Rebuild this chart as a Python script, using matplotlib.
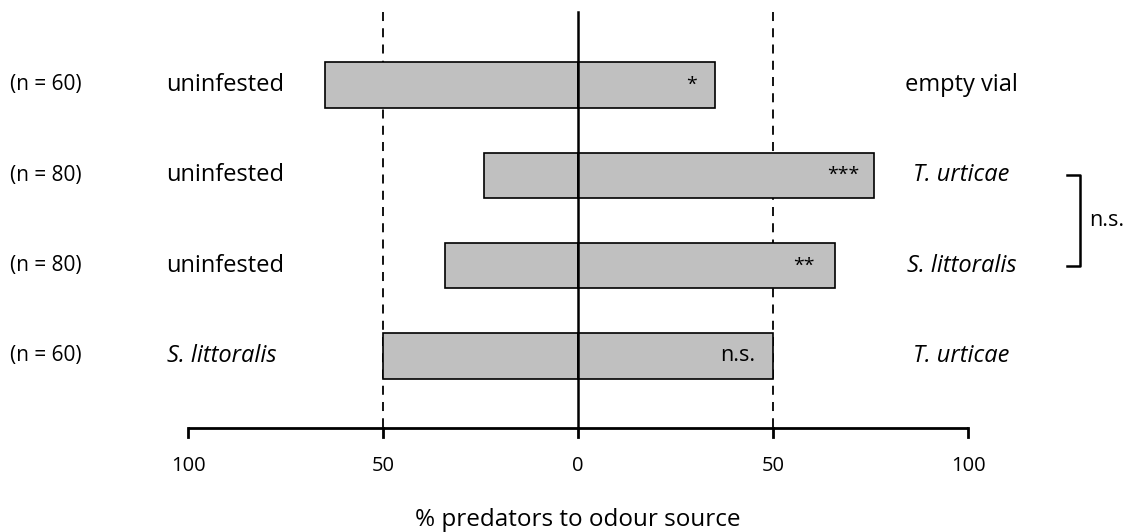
import numpy as np
import matplotlib.pyplot as plt

plt.rcParams['font.family'] = ['Open Sans', 'DejaVu Sans']

# choice tests, % predators to each odour source
sample_n = ['(n = 60)', '(n = 80)', '(n = 80)', '(n = 60)']
left_src = ['uninfested', 'uninfested', 'uninfested', 'S. littoralis']
right_src = ['empty vial', 'T. urticae', 'S. littoralis', 'T. urticae']
left_italic = [False, False, False, True]
right_italic = [False, True, True, True]
left_pct = [65, 24, 34, 50]
right_pct = [35, 76, 66, 50]
signif = ['*', '***', '**', 'n.s.']
sig_x = [29, 68, 58, 41]
ticks = [-100, -50, 0, 50, 100]
tick_labels = ['100', '50', '0', '50', '100']

fig = plt.figure(figsize=(11.28, 5.32), dpi=100)
ax = fig.add_axes([0, 0, 1, 1])
ax.set_xlim(-148.2, 141.0)
ax.set_ylim(4.949, -0.941)
ax.axis('off')

rows = np.arange(len(left_pct))
y_axis = 3.797

# dashed guides at 50 %
for xv in (-50, 50):
    ax.plot([xv, xv], [-0.81, y_axis], color='black', lw=1.3,
            ls=(0, (5, 4)), zorder=1)

ax.barh(rows, [-v for v in left_pct], height=0.5, color='#c0c0c0',
        edgecolor='black', linewidth=1.2, zorder=2)
ax.barh(rows, right_pct, height=0.5, color='#c0c0c0',
        edgecolor='black', linewidth=1.2, zorder=2)
ax.plot([0, 0], [-0.81, y_axis], color='black', lw=1.8, zorder=3)

# x axis
ax.plot([-100, 100], [y_axis, y_axis], color='black', lw=2.0, zorder=3,
        solid_capstyle='butt')
for t, lab in zip(ticks, tick_labels):
    ax.plot([t, t], [y_axis, y_axis + 0.1], color='black', lw=2.0, zorder=3)
    ax.text(t, 4.22, lab, ha='center', va='center', fontsize=14.5)
ax.text(0, 4.82, '% predators to odour source', ha='center', va='center',
        fontsize=17.5)

for i in rows:
    ax.text(-145.6, i, sample_n[i], ha='left', va='center', fontsize=15)
    ax.text(-105.5, i, left_src[i], ha='left', va='center', fontsize=17,
            style='italic' if left_italic[i] else 'normal')
    ax.text(98.3, i, right_src[i], ha='center', va='center', fontsize=17,
            style='italic' if right_italic[i] else 'normal')
    ax.text(sig_x[i], i, signif[i], ha='center', va='center',
            fontsize=15.5 if signif[i] == 'n.s.' else 14)

# bracket between the two infested sources
ax.plot([125.3, 128.6, 128.6, 125.3], [1, 1, 2, 2], color='black', lw=1.8)
ax.text(131.0, 1.5, 'n.s.', ha='left', va='center', fontsize=15.5)

fig.savefig('out.png', dpi=100)
